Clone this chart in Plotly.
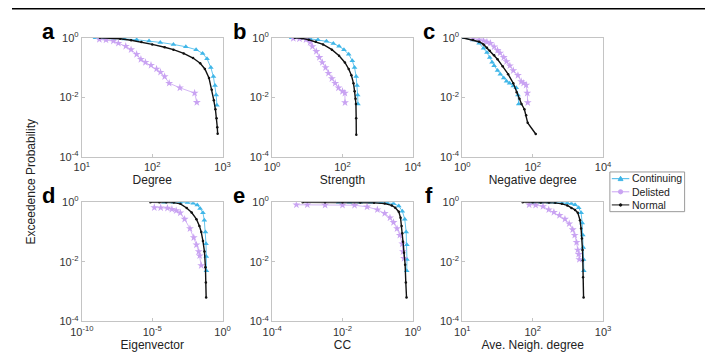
import plotly.graph_objects as go

# ---------------- data ----------------
# panel a: Degree
a_cont_x = [15.6, 20, 28, 40, 60, 90, 130, 200, 300, 420, 520, 600, 680, 740, 780, 810, 830]
a_cont_y = [1.0, 0.99, 0.97, 0.92, 0.86, 0.78, 0.70, 0.60, 0.50, 0.40, 0.30, 0.20, 0.10, 0.05, 0.025, 0.012, 0.0055]
a_del_x = [17.7, 22, 28, 33, 42, 50, 60, 69, 80, 96, 115, 131, 150, 174, 247, 400, 430]
a_del_y = [0.88, 0.85, 0.78, 0.66, 0.52, 0.40, 0.28, 0.19, 0.15, 0.12, 0.09, 0.07, 0.05, 0.030, 0.021, 0.014, 0.0068]
a_norm_x = [18, 25, 35, 50, 70, 100, 150, 200, 280, 380, 480, 560, 640, 700, 750, 790, 820, 840, 850]
a_norm_y = [1.0, 0.98, 0.93, 0.83, 0.72, 0.60, 0.48, 0.40, 0.30, 0.21, 0.14, 0.09, 0.045, 0.018, 0.008, 0.004, 0.002, 0.001, 0.0006]

# panel b: Strength
b_cont_x = [3.6, 5, 7.5, 12, 20, 35, 55, 80, 110, 150, 190, 220, 245, 260, 270, 275]
b_cont_y = [1.0, 1.0, 0.98, 0.93, 0.86, 0.76, 0.65, 0.52, 0.40, 0.28, 0.17, 0.10, 0.05, 0.025, 0.012, 0.006]
b_del_x = [4, 6, 9.2, 12, 14, 18, 22, 26.7, 33, 40, 50, 62, 77, 100, 117, 118]
b_del_y = [0.95, 0.93, 0.87, 0.70, 0.51, 0.35, 0.22, 0.149, 0.10, 0.065, 0.043, 0.030, 0.021, 0.016, 0.014, 0.0067]
b_norm_x = [4.4, 7, 11, 17.4, 28, 50, 80, 117, 150, 179, 205, 221, 235, 241, 245, 247]
b_norm_y = [1.0, 0.96, 0.86, 0.74, 0.60, 0.40, 0.25, 0.149, 0.09, 0.055, 0.03, 0.016, 0.009, 0.006, 0.002, 0.00056]

# panel c: Negative degree
c_cont_x = [1, 2, 3, 4, 5, 6, 7, 8, 10, 12, 15, 18, 22, 28, 34, 38, 40]
c_cont_y = [1.0, 0.84, 0.66, 0.45, 0.32, 0.22, 0.15, 0.116, 0.08, 0.06, 0.045, 0.035, 0.03, 0.024, 0.021, 0.012, 0.006]
c_del_x = [2, 3, 4, 5, 6.3, 8, 10, 11.8, 15, 18, 22.4, 28, 38, 47, 55, 65, 70, 72]
c_del_y = [0.95, 0.86, 0.80, 0.72, 0.66, 0.50, 0.38, 0.31, 0.22, 0.16, 0.116, 0.08, 0.055, 0.034, 0.03, 0.026, 0.014, 0.0067]
c_norm_x = [1, 2, 3, 4, 5, 6, 8, 10, 14, 20, 28, 35, 42, 48, 58, 65, 72, 122]
c_norm_y = [1.0, 0.84, 0.74, 0.60, 0.46, 0.37, 0.26, 0.19, 0.11, 0.06, 0.03, 0.015, 0.009, 0.006, 0.004, 0.0025, 0.0014, 0.00059]

# panel d: Eigenvector
d_cont_x = [6.9e-5, 3.2e-4, 1.0e-3, 3.2e-3, 8.1e-3, 0.0158, 0.0251, 0.0398, 0.0501, 0.0603, 0.0661, 0.0692, 0.0708]
d_cont_y = [1.0, 1.0, 0.99, 0.97, 0.92, 0.80, 0.62, 0.44, 0.25, 0.10, 0.04, 0.015, 0.005]
d_del_x = [1.4e-5, 4.0e-5, 1.2e-4, 2.5e-4, 5.0e-4, 9.8e-4, 2.0e-3, 4.8e-3, 8.9e-3, 0.0138, 0.020, 0.0234, 0.0302]
d_del_y = [0.66, 0.65, 0.63, 0.58, 0.52, 0.44, 0.27, 0.13, 0.065, 0.037, 0.022, 0.016, 0.0075]
d_norm_x = [7.4e-6, 3.2e-5, 1.0e-4, 3.4e-4, 1.0e-3, 2.8e-3, 6.3e-3, 0.0138, 0.0224, 0.0302, 0.0398, 0.0513, 0.0603, 0.0646, 0.0676]
d_norm_y = [1.0, 1.0, 0.99, 0.97, 0.88, 0.64, 0.45, 0.27, 0.16, 0.10, 0.05, 0.022, 0.0066, 0.002, 0.00063]

# panel e: CC
e_cont_x = [7.8e-3, 0.0158, 0.032, 0.063, 0.126, 0.186, 0.282, 0.398, 0.501, 0.589, 0.646, 0.676, 0.68, 0.67]
e_cont_y = [1.0, 1.0, 0.99, 0.99, 0.98, 0.96, 0.90, 0.75, 0.50, 0.27, 0.10, 0.037, 0.012, 0.005]
e_del_x = [4.9e-4, 1e-3, 3.2e-3, 0.01, 0.022, 0.05, 0.098, 0.158, 0.224, 0.282, 0.355, 0.427, 0.501, 0.525, 0.562]
e_del_y = [0.82, 0.82, 0.80, 0.80, 0.79, 0.70, 0.56, 0.42, 0.30, 0.21, 0.13, 0.078, 0.04, 0.022, 0.013]
e_norm_x = [7.4e-4, 3.2e-3, 0.01, 0.032, 0.079, 0.158, 0.251, 0.316, 0.398, 0.447, 0.479, 0.501, 0.525, 0.562, 0.603, 0.631, 0.661]
e_norm_y = [1.0, 1.0, 0.99, 0.98, 0.96, 0.90, 0.78, 0.65, 0.48, 0.30, 0.16, 0.09, 0.047, 0.02, 0.008, 0.002, 0.00063]

# panel f: Ave. Neigh. degree
f_cont_x = [100, 130, 170, 210, 260, 310, 355, 400, 450, 487, 505, 515, 522, 528, 532]
f_cont_y = [1.0, 1.0, 0.99, 0.98, 0.96, 0.94, 0.90, 0.82, 0.65, 0.44, 0.20, 0.08, 0.03, 0.012, 0.005]
f_del_x = [89, 110, 140, 169, 200, 240, 287, 330, 370, 395, 420, 437, 450, 460]
f_del_y = [0.82, 0.80, 0.72, 0.56, 0.46, 0.36, 0.27, 0.19, 0.12, 0.078, 0.045, 0.025, 0.018, 0.012]
f_norm_x = [72, 100, 130, 170, 209, 260, 310, 355, 400, 437, 470, 487, 500, 510, 515, 520, 528]
f_norm_y = [1.0, 0.99, 0.98, 0.97, 0.95, 0.88, 0.78, 0.64, 0.55, 0.44, 0.25, 0.13, 0.06, 0.025, 0.011, 0.003, 0.00063]

panel_letters = ["a", "b", "c", "d", "e", "f"]
x_titles = ["Degree", "Strength", "Negative degree", "Eigenvector", "CC", "Ave. Neigh. degree"]
x_ranges_exp = [(1, 3), (0, 4), (0, 4), (-10, 0), (-4, 0), (1, 3)]
x_tick_exps = [[1, 2, 3], [0, 2, 4], [0, 2, 4], [-10, -5, 0], [-4, -2, 0], [1, 2, 3]]
y_tick_exps = [0, -2, -4]
series_names = ["Continuing", "Delisted", "Normal"]

panels = [
    [(a_cont_x, a_cont_y), (a_del_x, a_del_y), (a_norm_x, a_norm_y)],
    [(b_cont_x, b_cont_y), (b_del_x, b_del_y), (b_norm_x, b_norm_y)],
    [(c_cont_x, c_cont_y), (c_del_x, c_del_y), (c_norm_x, c_norm_y)],
    [(d_cont_x, d_cont_y), (d_del_x, d_del_y), (d_norm_x, d_norm_y)],
    [(e_cont_x, e_cont_y), (e_del_x, e_del_y), (e_norm_x, e_norm_y)],
    [(f_cont_x, f_cont_y), (f_del_x, f_del_y), (f_norm_x, f_norm_y)],
]

# ---------------- styling ----------------
W, H = 714, 362
CYAN = "#3fb6e8"
PURPLE = "#c9a3f2"
BLACK = "#111111"
styles = [
    dict(color=CYAN, symbol="triangle-up", size=5, lw=0.8),
    dict(color=PURPLE, symbol="star", size=6, lw=0.8),
    dict(color=BLACK, symbol="circle", size=2.5, lw=1.4),
]
FONT = "Liberation Sans, Arial, Helvetica, sans-serif"
col_px = [(72, 217), (268, 413), (464, 609)]
row_px = [(31, 155), (202, 326)]


def px(x):
    return x / W


def py(y):
    return 1 - y / H


fig = go.Figure()
layout = {}
annotations = []
shapes = []
for i in range(6):
    r, c = divmod(i, 3)
    ax = "" if i == 0 else str(i + 1)
    xdom = [px(col_px[c][0]), px(col_px[c][1])]
    ydom = [py(row_px[r][1]), py(row_px[r][0])]
    for k in [0, 1, 2]:
        xs, ys = panels[i][k]
        st = styles[k]
        fig.add_trace(go.Scatter(
            x=xs, y=ys, mode="lines+markers", name=series_names[k],
            line=dict(color=st["color"], width=st["lw"]),
            marker=dict(color=st["color"], symbol=st["symbol"], size=st["size"], line=dict(width=0)),
            xaxis="x" + ax, yaxis="y" + ax, showlegend=False,
        ))
    lo, hi = x_ranges_exp[i]
    layout["xaxis" + ax] = dict(
        domain=xdom, anchor="y" + ax, type="log", range=[lo, hi],
        tickvals=[10 ** e for e in x_tick_exps[i]],
        ticktext=["10<sup>%d</sup>" % e for e in x_tick_exps[i]],
        showgrid=False, zeroline=False, showline=True, linecolor="#c4c4c4", linewidth=1.2,
        mirror=True, ticks="inside", ticklen=3, tickcolor="#c4c4c4",
        tickfont=dict(family=FONT, size=11, color="#333333"),
        title=dict(text=x_titles[i], font=dict(family=FONT, size=12, color="#222222"), standoff=3),
    )
    layout["yaxis" + ax] = dict(
        domain=ydom, anchor="x" + ax, type="log", range=[-4, 0],
        tickvals=[10 ** e for e in y_tick_exps],
        ticktext=["10<sup>%d</sup>" % e for e in y_tick_exps],
        showgrid=False, zeroline=False, showline=True, linecolor="#c4c4c4", linewidth=1.2,
        mirror=True, ticks="inside", ticklen=3, tickcolor="#c4c4c4",
        tickfont=dict(family=FONT, size=11, color="#333333"),
    )
    annotations.append(dict(
        text="<b>%s</b>" % panel_letters[i], xref="paper", yref="paper",
        x=px(col_px[c][0] - 34), y=py(row_px[r][0] - 7),
        xanchor="center", yanchor="middle", showarrow=False,
        font=dict(family=FONT, size=22, color="#000000"),
    ))

annotations.append(dict(
    text="Exceedence Probability", xref="paper", yref="paper",
    x=px(20), y=py(181), textangle=-90, showarrow=False,
    xanchor="center", yanchor="middle",
    font=dict(family=FONT, size=12, color="#222222"),
))

# ---------------- compact legend (box, samples, labels) ----------------
LEG_FONT = 10.5
line_gap = LEG_FONT * 1.3
leg_mid = 191.2
leg_rows = [leg_mid - line_gap, leg_mid, leg_mid + line_gap]
leg_left, leg_right = 616, 693
leg_top, leg_bottom = leg_rows[0] - 7, leg_rows[2] + 7
shapes.append(dict(type="rect", xref="paper", yref="paper",
                   x0=px(leg_left), x1=px(leg_right), y0=py(leg_bottom), y1=py(leg_top),
                   line=dict(color="#9a9a9a", width=1), fillcolor="white", layer="above"))
for k, yy in enumerate(leg_rows):
    st = styles[k]
    shapes.append(dict(type="line", xref="paper", yref="paper",
                       x0=px(618), x1=px(636), y0=py(yy), y1=py(yy),
                       line=dict(color=st["color"], width=1), layer="above"))
    cx = 627
    if k == 0:
        path = "M %f,%f L %f,%f L %f,%f Z" % (px(cx - 2.5), py(yy + 2), px(cx + 2.5), py(yy + 2), px(cx), py(yy - 2.5))
        shapes.append(dict(type="path", xref="paper", yref="paper", path=path,
                           line=dict(color=st["color"], width=1), fillcolor=st["color"], layer="above"))
    elif k == 1:
        shapes.append(dict(type="circle", xref="paper", yref="paper",
                           x0=px(cx - 2.2), x1=px(cx + 2.2), y0=py(yy + 2.2), y1=py(yy - 2.2),
                           line=dict(color=st["color"], width=1), fillcolor=st["color"], layer="above"))
    else:
        shapes.append(dict(type="circle", xref="paper", yref="paper",
                           x0=px(cx - 1.3), x1=px(cx + 1.3), y0=py(yy + 1.3), y1=py(yy - 1.3),
                           line=dict(color=st["color"], width=1), fillcolor=st["color"], layer="above"))
annotations.append(dict(
    text="<br>".join(series_names), xref="paper", yref="paper", align="left",
    x=px(638), y=py(leg_mid), xanchor="left", yanchor="middle", showarrow=False,
    borderpad=0, font=dict(family=FONT, size=LEG_FONT, color="#222222"),
))

# thin frame line along the top of the figure
shapes.append(dict(type="line", xref="paper", yref="paper", x0=0, x1=1, y0=py(0.8), y1=py(0.8),
                   line=dict(color="black", width=1.5)))

fig.update_layout(
    **layout,
    width=W, height=H,
    margin=dict(l=0, r=0, t=0, b=0),
    paper_bgcolor="white", plot_bgcolor="white",
    annotations=annotations,
    shapes=shapes,
    showlegend=False,
)

fig.write_html("out.html")
